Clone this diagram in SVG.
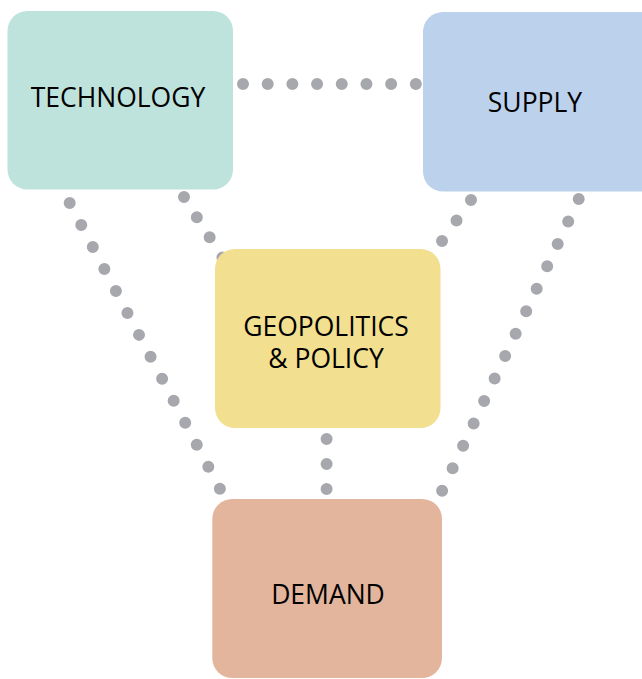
<svg xmlns="http://www.w3.org/2000/svg" width="642" height="679" viewBox="0 0 642 679">
<style>
.dot{stroke:#a7a8ad;stroke-width:12;stroke-linecap:round;fill:none}
.lbl{font-family:"Open Sans","Noto Sans","Liberation Sans",sans-serif;font-size:26.5px;fill:#000;text-anchor:middle}
</style>
<rect width="642" height="679" fill="#fff"/>
<g id="connectors">
<line class="dot" x1="243" y1="84" x2="416" y2="84" stroke-dasharray="0 24.69"/>
<line class="dot" x1="69.7" y1="203" x2="220" y2="489" stroke-dasharray="0 24.83"/>
<line class="dot" x1="184" y1="197" x2="222.5" y2="257.5" stroke-dasharray="0 23.88"/>
<line class="dot" x1="471" y1="200" x2="427.5" y2="261.5" stroke-dasharray="0 25.08"/>
<line class="dot" x1="578.7" y1="199" x2="442" y2="491" stroke-dasharray="0 24.78"/>
<line class="dot" x1="326.6" y1="439" x2="326.6" y2="489" stroke-dasharray="0 24.98"/>
</g>
<g id="technology">
<rect x="7.5" y="11" width="225.5" height="178.5" rx="20" fill="#bee3dc"/>
<text class="lbl" x="118" y="106.5">TECHNOLOGY</text>
</g>
<g id="supply">
<rect x="423" y="12" width="240" height="179.5" rx="20" fill="#bbd1ec"/>
<text class="lbl" x="535" y="111.5">SUPPLY</text>
</g>
<g id="geopolitics">
<rect x="215" y="249" width="225.5" height="179" rx="20" fill="#f2df8f"/>
<text class="lbl" x="326" y="335.5">GEOPOLITICS</text>
<text class="lbl" x="326" y="368">&amp; POLICY</text>
</g>
<g id="demand">
<rect x="212.3" y="499" width="229.7" height="179" rx="20" fill="#e3b59c"/>
<text class="lbl" x="328" y="604">DEMAND</text>
</g>
</svg>
